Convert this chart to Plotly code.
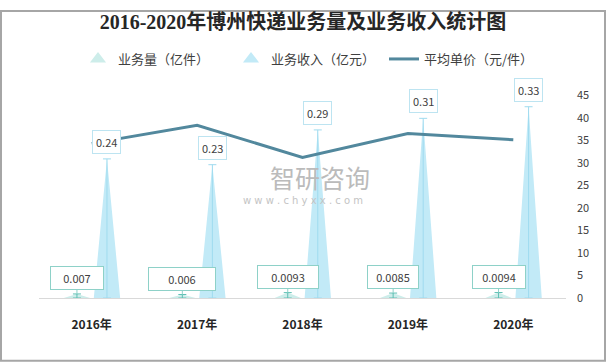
import plotly.graph_objects as go

years = ["2016年", "2017年", "2018年", "2019年", "2020年"]
volume = [0.007, 0.006, 0.0093, 0.0085, 0.0094]      # 业务量（亿件）
revenue = [0.24, 0.23, 0.29, 0.31, 0.33]             # 业务收入（亿元）
price = [34.3, 38.3, 31.2, 36.5, 35.1]               # 平均单价（元/件）
volume_text = ["0.007", "0.006", "0.0093", "0.0085", "0.0094"]
revenue_text = ["0.24", "0.23", "0.29", "0.31", "0.33"]

idx = list(range(len(years)))
VOL_OFF, REV_OFF, HALF_W = -0.14, 0.145, 0.125
VOL_COLOR = "#CDEDEA"
VOL_EDGE = "#8ED1C8"
REV_COLOR = "#C2EAF7"
LINE_COLOR = "#52889D"
FONT = "Noto Sans CJK SC"


def triangles(values, off):
    xs, ys = [], []
    for i, v in zip(idx, values):
        xs += [i + off - HALF_W, i + off, i + off + HALF_W, None]
        ys += [0, v, 0, None]
    return xs, ys


fig = go.Figure()

vx, vy = triangles(volume, VOL_OFF)
fig.add_trace(go.Scatter(x=vx, y=vy, fill="toself", fillcolor=VOL_COLOR,
                         mode="lines", line=dict(width=0), showlegend=False,
                         hoverinfo="skip", yaxis="y"))
rx, ry = triangles(revenue, REV_OFF)
fig.add_trace(go.Scatter(x=rx, y=ry, fill="toself", fillcolor=REV_COLOR,
                         mode="lines", line=dict(width=0), showlegend=False,
                         hoverinfo="skip", yaxis="y"))

# centre lines with caps (error bars down to zero)
fig.add_trace(go.Scatter(x=[i + VOL_OFF for i in idx], y=volume, mode="markers",
                         marker=dict(size=0.1, color="rgba(0,0,0,0)"), showlegend=False,
                         error_y=dict(type="data", symmetric=False, array=[0] * 5,
                                      arrayminus=volume, color="#5DBFB3", thickness=1, width=4),
                         yaxis="y", hoverinfo="skip"))
fig.add_trace(go.Scatter(x=[i + REV_OFF for i in idx], y=revenue, mode="markers",
                         marker=dict(size=0.1, color="rgba(0,0,0,0)"), showlegend=False,
                         error_y=dict(type="data", symmetric=False, array=[0] * 5,
                                      arrayminus=revenue, color="#9FDBEF", thickness=1, width=4),
                         yaxis="y", hoverinfo="skip"))

# legend entries
fig.add_trace(go.Scatter(x=[None], y=[None], mode="markers", name="业务量（亿件）",
                         marker=dict(symbol="triangle-up", size=14, color=VOL_COLOR)))
fig.add_trace(go.Scatter(x=[None], y=[None], mode="markers", name="业务收入（亿元）",
                         marker=dict(symbol="triangle-up", size=14, color=REV_COLOR)))

fig.add_trace(go.Scatter(x=idx, y=price, mode="lines", name="平均单价（元/件）",
                         line=dict(color=LINE_COLOR, width=3), yaxis="y2"))

annotations = []
for i, v, t in zip(idx, revenue, revenue_text):
    annotations.append(dict(x=i + REV_OFF, y=v, xref="x", yref="y", text=t,
                            showarrow=False, yanchor="bottom", yshift=5,
                            bgcolor="white", bordercolor="#BDE4F1", borderwidth=1,
                            borderpad=3, font=dict(family=FONT, size=11, color="#404040")))
vol_box_w = [48, 62, 56, 46, 48]
for i, v, t, w in zip(idx, volume, volume_text, vol_box_w):
    annotations.append(dict(x=i + VOL_OFF, y=v, xref="x", yref="y", text=t,
                            showarrow=True, arrowhead=0, arrowwidth=1, arrowcolor=VOL_EDGE,
                            ax=0, ay=-16, width=w, height=18,
                            bgcolor="white", bordercolor=VOL_EDGE, borderwidth=1,
                            borderpad=2, font=dict(family=FONT, size=11, color="#404040")))
# watermark
annotations.append(dict(x=(320 - 39) / 527, y=(298 - 173) / 210, xref="paper", yref="paper",
                        text="智研咨询", showarrow=False,
                        font=dict(family=FONT, size=25, color="#BBBBBB")))
annotations.append(dict(x=(303 - 39) / 527, y=(298 - 197) / 210, xref="paper", yref="paper",
                        text="w w w . c h y x x . c o m", showarrow=False,
                        font=dict(family="DejaVu Sans", size=10, color="#C4C4C4")))

fig.update_layout(
    width=606, height=364,
    margin=dict(l=39, r=40, t=88, b=66),
    paper_bgcolor="white", plot_bgcolor="white",
    title=dict(text="<b>2016-2020年博州快递业务量及业务收入统计图</b>",
               x=0.5, xanchor="center", y=1 - 22 / 364, yanchor="middle",
               font=dict(family="Liberation Serif, Noto Sans CJK SC", size=20, color="#262626")),
    legend=dict(orientation="h", xref="container", yref="container",
                x=78 / 606, xanchor="left", y=1 - 59 / 364,
                yanchor="middle", entrywidth=108, entrywidthmode="pixels",
                font=dict(family=FONT, size=13, color="#404040"), itemclick=False),
    xaxis=dict(range=[-0.5, 4.5], tickvals=idx, ticktext=years, showgrid=False,
               showline=True, linecolor="#D9D9D9", linewidth=1, zeroline=False,
               ticks="", ticklabelstandoff=16,
               tickfont=dict(family=FONT, size=12, color="#262626", weight="bold")),
    yaxis=dict(range=[0, 0.35], visible=False, showgrid=False, zeroline=False),
    yaxis2=dict(range=[0, 45], dtick=5, overlaying="y", side="right", showgrid=False,
                zeroline=False, showline=False, ticks="", ticklabelstandoff=10,
                tickfont=dict(family=FONT, size=11, color="#404040")),
    annotations=annotations,
    shapes=[dict(type="rect", xref="paper", yref="paper",
                 x0=-38 / 527, x1=1 + 39 / 527, y0=-65 / 210, y1=1 + 87 / 210,
                 line=dict(color="#A6A6A6", width=2))],
    showlegend=True,
)

fig.write_html("out.html", config={"displayModeBar": False},
               post_script="document.body.style.margin='0';document.body.style.overflow='hidden';")
